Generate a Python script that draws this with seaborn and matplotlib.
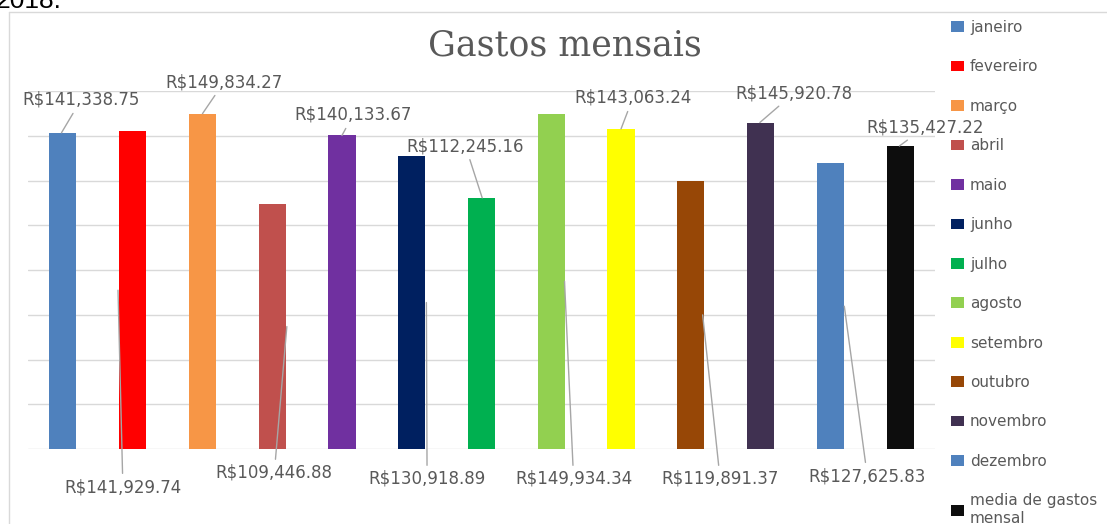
import matplotlib.pyplot as plt
import pandas as pd
import seaborn as sns
from matplotlib.lines import Line2D

meses = ['janeiro', 'fevereiro', 'março', 'abril', 'maio', 'junho', 'julho',
         'agosto', 'setembro', 'outubro', 'novembro', 'dezembro',
         'media de gastos\nmensal']
gastos = [141338.75, 141929.74, 149834.27, 109446.88, 140133.67, 130918.89,
          112245.16, 149934.34, 143063.24, 119891.37, 145920.78, 127625.83,
          135427.22]
cores = ['#4F81BD', '#FF0000', '#F79646', '#C0504D', '#7030A0', '#002060',
         '#00B050', '#92D050', '#FFFF00', '#974706', '#403151', '#4F81BD',
         '#0D0D0D']

# onde fica cada rótulo (x em categorias, y em R$) e onde a linha guia toca a barra
rotulo_pos = [(0.26, 156000), (0.86, -17000), (2.31, 164000), (3.03, -10700),
              (4.16, 149300), (5.22, -13400), (5.77, 135400), (7.32, -13400),
              (8.17, 156900), (9.42, -13400), (10.48, 159100), (11.53, -12100),
              (12.36, 143900)]
guia = [(-0.02, 1), (-0.21, 0.5), (0.0, 1), (0.21, 0.5), (0.0, 1), (0.21, 0.5),
        (0.01, 1), (0.19, 0.5), (0.0, 1), (0.17, 0.5), (-0.01, 1), (0.2, 0.5),
        (-0.01, 1)]


def main():
    sns.set_style('white')
    plt.rcParams['font.family'] = ['DejaVu Sans']
    cinza = '#595959'

    df = pd.DataFrame({'mes': meses, 'valor': gastos})

    fig = plt.figure(figsize=(11.07, 5.24), dpi=100)
    ax = fig.add_axes([28 / 1107, 1 - 449 / 524, 907 / 1107, 358 / 524])

    sns.barplot(data=df, x='mes', y='valor', hue='mes',
                palette=dict(zip(meses, cores)), width=0.39, saturation=1,
                linewidth=0, legend=True, ax=ax)

    ax.set_ylim(0, 160000)
    ax.set_xlim(-0.5, 12.5)
    ax.set_yticks(range(0, 160001, 20000))
    ax.grid(axis='y', color='#D9D9D9', lw=1)
    ax.set_axisbelow(True)
    ax.tick_params(left=False, bottom=False, labelleft=False, labelbottom=False)
    ax.set_xlabel('')
    ax.set_ylabel('')
    for s in ax.spines.values():
        s.set_visible(False)

    for i, v in enumerate(gastos):
        tx, ty = rotulo_pos[i]
        dx, frac = guia[i]
        ax.annotate(f'R${v:,.2f}', xy=(i + dx, v * frac), xytext=(tx, ty),
                    ha='center', va='center', fontsize=12, color=cinza,
                    annotation_clip=False,
                    arrowprops=dict(arrowstyle='-', color='#A6A6A6', lw=1,
                                    shrinkA=1, shrinkB=0))

    leg = ax.get_legend()
    handles = list(leg.legend_handles)
    labels = [t.get_text() for t in leg.get_texts()]
    leg.remove()
    fig.legend(handles, labels, loc='upper left',
               bbox_to_anchor=(951 / 1107, 1 - 20 / 524), frameon=False,
               fontsize=11, labelcolor=cinza, handlelength=0.85,
               handleheight=0.7, handletextpad=0.4, labelspacing=1.6,
               borderpad=0, borderaxespad=0)

    fig.text(565 / 1107, 1 - 45 / 524, 'Gastos mensais', ha='center',
             va='center', fontsize=25, color=cinza, family='DejaVu Serif')

    # moldura do gráfico e o texto cortado no topo
    fig.add_artist(Line2D([9 / 1107, 9 / 1107], [0, 1 - 12 / 524],
                          color='#D9D9D9', lw=1))
    fig.add_artist(Line2D([9 / 1107, 1], [1 - 12 / 524, 1 - 12 / 524],
                          color='#D9D9D9', lw=1))
    fig.text(-4 / 1107, 1 - 8 / 524, '2018.', va='baseline', fontsize=19,
             family='Liberation Sans', color='black')

    fig.savefig('out.png', dpi=100, facecolor='white')


if __name__ == "__main__":
    main()
